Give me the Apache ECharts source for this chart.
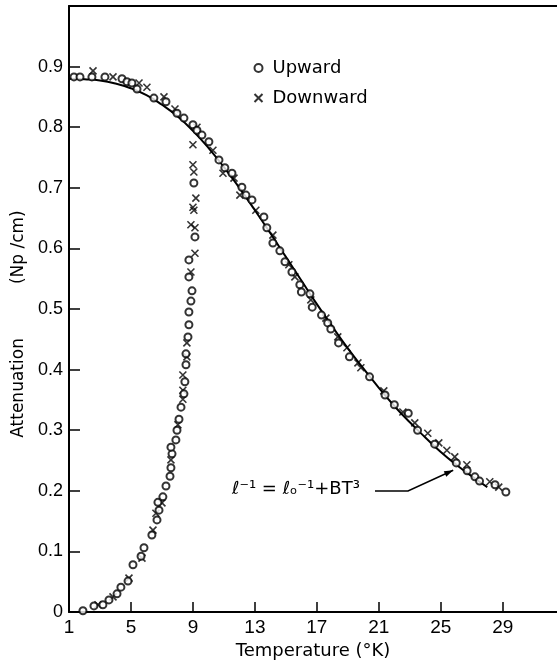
<!DOCTYPE html>
<html>
<head>
<meta charset="utf-8">
<script src="https://cdn.jsdelivr.net/npm/echarts@6/dist/echarts.min.js"></script>
<style>
  html, body { margin: 0; padding: 0; background: #fff; }
  #main { width: 557px; height: 669px; }
</style>
</head>
<body>
<div id="main"></div>
<script>
// tick labels
var xTicks = [1, 5, 9, 13, 17, 21, 25, 29];
var yTicks = [0, 0.1, 0.2, 0.3, 0.4, 0.5, 0.6, 0.7, 0.8, 0.9];

// Upward (circles): [T, attenuation]
var upward = [
  [1.90, 0.002], [2.61, 0.010], [3.19, 0.012], [3.58, 0.020], [4.10, 0.030],
  [4.35, 0.041], [4.81, 0.051], [5.13, 0.078], [5.65, 0.092], [5.84, 0.106],
  [6.35, 0.127], [6.68, 0.152], [6.81, 0.168], [6.74, 0.181], [7.06, 0.190],
  [7.26, 0.208], [7.52, 0.224], [7.58, 0.238], [7.65, 0.261], [7.58, 0.272],
  [7.90, 0.284], [7.97, 0.300], [8.10, 0.318], [8.23, 0.338], [8.42, 0.360],
  [8.48, 0.380], [8.55, 0.408], [8.55, 0.426], [8.68, 0.454], [8.74, 0.474],
  [8.74, 0.495], [8.87, 0.513], [8.94, 0.530], [8.74, 0.553], [8.74, 0.581],
  [9.13, 0.619], [9.06, 0.708],
  [1.32, 0.883], [1.71, 0.883], [2.48, 0.883], [3.32, 0.883], [4.42, 0.880],
  [4.74, 0.875], [5.06, 0.873], [5.39, 0.863], [6.48, 0.848], [7.26, 0.842],
  [7.97, 0.823], [8.42, 0.815], [9.00, 0.804], [9.26, 0.795], [9.58, 0.787],
  [10.03, 0.776], [10.68, 0.746], [11.06, 0.733], [11.52, 0.724], [12.16, 0.701],
  [12.42, 0.688], [12.81, 0.680], [13.58, 0.652], [13.77, 0.634], [14.16, 0.609],
  [14.61, 0.596], [14.94, 0.578], [15.39, 0.561], [15.90, 0.540], [16.00, 0.528],
  [16.55, 0.525], [16.70, 0.503], [17.30, 0.490], [17.70, 0.477], [17.90, 0.467],
  [18.40, 0.444], [19.10, 0.421], [20.40, 0.388], [21.40, 0.358], [22.00, 0.342],
  [22.90, 0.328], [23.50, 0.300], [24.60, 0.277], [26.00, 0.246], [26.70, 0.233],
  [27.20, 0.223], [27.50, 0.216], [28.50, 0.210], [29.20, 0.198]
];

// Downward (crosses): [T, attenuation]
var downward = [
  [2.87, 0.012], [3.84, 0.025], [4.87, 0.056], [5.71, 0.089], [6.42, 0.135],
  [6.61, 0.163], [7.00, 0.180], [7.58, 0.251], [8.03, 0.309], [8.35, 0.351],
  [8.35, 0.366], [8.35, 0.391], [8.61, 0.421], [8.61, 0.444], [8.87, 0.561],
  [9.13, 0.592], [8.87, 0.639], [9.13, 0.634], [9.00, 0.668], [9.06, 0.663],
  [9.19, 0.683], [9.06, 0.726], [9.00, 0.738], [9.00, 0.771],
  [2.55, 0.893], [3.84, 0.883], [5.52, 0.873], [6.03, 0.866], [7.13, 0.850],
  [7.84, 0.830], [9.26, 0.800], [10.29, 0.762], [10.94, 0.724], [11.65, 0.716],
  [12.03, 0.688], [13.06, 0.663], [14.16, 0.622], [15.19, 0.573], [15.58, 0.553],
  [16.61, 0.515], [17.58, 0.485], [18.35, 0.454], [18.94, 0.436], [19.65, 0.411],
  [19.84, 0.403], [21.32, 0.365], [22.55, 0.330], [23.32, 0.312], [24.16, 0.295],
  [24.87, 0.279], [25.39, 0.267], [25.90, 0.256], [26.68, 0.243], [28.16, 0.215],
  [28.74, 0.206]
];

// fitted curve  l^-1 = l0^-1 + BT^3
var fitT = [1, 2, 3, 4, 5, 6, 7, 8, 9, 10, 11, 12, 13, 14, 15, 16, 17, 18, 19, 20,
            21, 22, 23, 24, 25, 26, 27, 28];
var fitA = [0.880, 0.879, 0.877, 0.872, 0.864, 0.853, 0.837, 0.818, 0.794, 0.766,
            0.734, 0.700, 0.663, 0.625, 0.586, 0.547, 0.508, 0.471, 0.435, 0.402,
            0.370, 0.340, 0.313, 0.288, 0.264, 0.243, 0.224, 0.206];

var chart = echarts.init(document.getElementById('main'));
var numFont = '"Liberation Sans Narrow", "Liberation Sans", sans-serif';
var txtFont = '"DejaVu Sans", sans-serif';
var crossPath = 'path://M0,0L10,10M10,0L0,10';

chart.setOption({
  animation: false,
  backgroundColor: '#fff',
  grid: { left: 69, right: 0, top: 6, bottom: 57 },
  legend: {
    orient: 'vertical',
    left: 247,
    top: 53,
    itemWidth: 8,
    itemHeight: 8,
    itemGap: 10,
    data: ['Upward', 'Downward'],
    textStyle: { fontFamily: txtFont, fontSize: 18, color: '#000', lineHeight: 20, padding: [0, 0, 0, 5] }
  },
  xAxis: [{
    type: 'value',
    min: 1,
    max: 32.5,
    name: 'Temperature (°K)',
    nameLocation: 'middle',
    nameGap: 30,
    nameTextStyle: { fontFamily: txtFont, fontSize: 18, color: '#000' },
    axisLine: { lineStyle: { color: '#000', width: 2 } },
    axisTick: { inside: true, length: 10, lineStyle: { color: '#000', width: 1.5 }, customValues: xTicks },
    axisLabel: { customValues: xTicks, margin: 6, fontFamily: numFont, fontSize: 19, color: '#000' },
    splitLine: { show: false }
  }, {
    type: 'value',
    position: 'top',
    min: 1,
    max: 32.5,
    axisLine: { show: true, lineStyle: { color: '#000', width: 2 } },
    axisTick: { show: false },
    axisLabel: { show: false },
    splitLine: { show: false }
  }],
  yAxis: {
    type: 'value',
    min: 0,
    max: 1,
    interval: 0.1,
    name: 'Attenuation          (Np /cm)',
    nameLocation: 'middle',
    nameGap: 30,
    nameTextStyle: { fontFamily: txtFont, fontSize: 17, color: '#000', padding: [0, 30, 0, 0] },
    axisLine: { show: true, lineStyle: { color: '#000', width: 2 } },
    axisTick: { inside: true, length: 11, lineStyle: { color: '#000', width: 1.5 }, customValues: yTicks },
    axisLabel: {
      customValues: yTicks,
      margin: 6,
      fontFamily: numFont,
      fontSize: 18,
      color: '#000',
      formatter: function (v) { return v === 0 ? '0' : v.toFixed(1); }
    },
    splitLine: { show: false }
  },
  series: [{
    name: 'fit',
    type: 'line',
    data: fitT.map(function (t, i) { return [t, fitA[i]]; }),
    smooth: true,
    showSymbol: false,
    lineStyle: { color: '#000', width: 2 },
    z: 1
  }, {
    name: 'Upward',
    type: 'scatter',
    data: upward,
    symbol: 'emptyCircle',
    symbolSize: 7,
    itemStyle: { color: '#000', borderColor: '#000', borderWidth: 1.6 },
    z: 3
  }, {
    name: 'Downward',
    type: 'scatter',
    data: downward,
    symbol: crossPath,
    symbolSize: 7,
    itemStyle: { color: 'none', borderColor: '#000', borderWidth: 1.6 },
    z: 2
  }]
});

// formula label with leader arrow pointing at the curve
var tip = chart.convertToPixel({ xAxisIndex: 0, yAxisIndex: 0 }, [25.8, 0.234]);
chart.setOption({
  graphic: [{
    type: 'text',
    left: 232,
    top: 480,
    style: {
      text: 'ℓ⁻¹ = ℓₒ⁻¹+BT³',
      font: '18px "DejaVu Sans", sans-serif',
      fill: '#000'
    }
  }, {
    type: 'polyline',
    shape: { points: [[375, 491], [408, 491], [tip[0], tip[1]]] },
    style: { stroke: '#000', lineWidth: 1.5, fill: null }
  }, {
    type: 'polygon',
    shape: {
      points: (function () {
        var dx = tip[0] - 408, dy = tip[1] - 491;
        var len = Math.sqrt(dx * dx + dy * dy);
        var ux = dx / len, uy = dy / len;
        var bx = tip[0] - ux * 9, by = tip[1] - uy * 9;
        return [[tip[0], tip[1]], [bx - uy * 3, by + ux * 3], [bx + uy * 3, by - ux * 3]];
      })()
    },
    style: { fill: '#000' }
  }]
});
</script>
</body>
</html>
